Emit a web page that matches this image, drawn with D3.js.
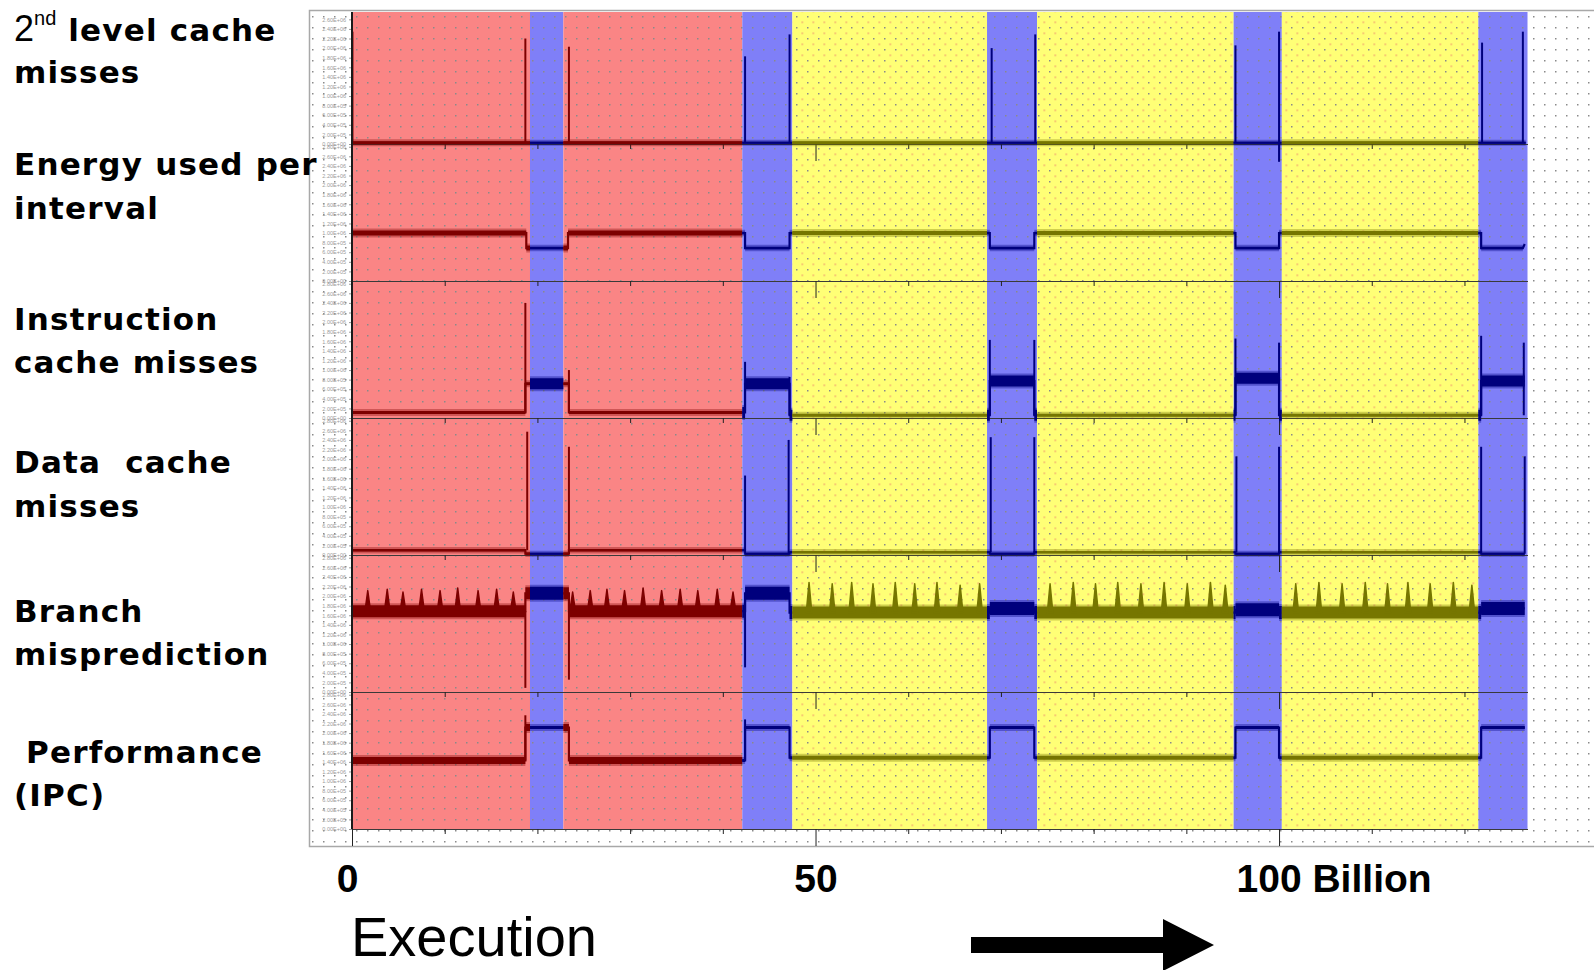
<!DOCTYPE html>
<html>
<head>
<meta charset="utf-8">
<script src="https://cdn.jsdelivr.net/npm/d3@7"></script>
<style>
    body { margin: 0; background: #fff; }
</style>
</head>
<body>
<div id="chart"></div>
<script>
// execution phases, billions of instructions
const phaseKind = ["red", "blue", "red", "blue", "yellow", "blue", "yellow", "blue", "yellow", "blue"];
const phaseStart = [0, 19.2, 22.8, 42.1, 47.5, 68.5, 73.9, 95.1, 100.3, 121.5];
const phaseEnd = [19.2, 22.8, 42.1, 47.5, 68.5, 73.9, 95.1, 100.3, 121.5, 126.8];

const xTicks = [0, 10, 20, 30, 40, 50, 60, 70, 80, 90, 100, 110, 120];
const xMajor = [0, 50, 100];
const xLabels = ["0", "50", "100 Billion"];

const yTicks = [0, 7, 14, 21, 28, 35, 42, 49, 56, 63, 70, 77, 84, 91, 98];
const yTickText = ["0.00E+00", "2.00E+05", "4.00E+05", "6.00E+05", "8.00E+05", "1.00E+06", "1.20E+06",
    "1.40E+06", "1.60E+06", "1.80E+06", "2.00E+06", "2.20E+06", "2.40E+06", "2.60E+06", "2.80E+06"];

const rowNames = [
    ["2nd level cache", "misses"],
    ["Energy used per", "interval"],
    ["Instruction", "cache misses"],
    ["Data  cache", "misses"],
    ["Branch", "misprediction"],
    [" Performance", "(IPC)"]
];

// values are % of the panel height; traces are [x, value], spikes are [x, from, to]
const l2Trace = [[0, 1], [126.6, 1]];
const l2Spikes = [[0.05, 1, 82], [18.7, 1, 77], [23.4, 1, 71], [42.4, 1, 64], [47.2, 1, 80], [69.0, 1, 70],
    [73.7, 1, 80], [95.3, 1, 72], [100.0, -13, 82], [121.9, 1, 74], [126.3, 1, 82]];

const energyTrace = [[0, 35], [18.8, 35], [18.8, 24], [23.3, 24], [23.3, 35], [42.4, 35], [42.4, 24], [47.2, 24],
    [47.2, 35], [68.8, 35], [68.8, 24], [73.6, 24], [73.6, 35], [95.3, 35], [95.3, 24], [100.0, 24], [100.0, 35],
    [121.8, 35], [121.8, 24], [126.3, 24], [126.5, 27]];
const energySpikes = [];

const icacheTrace = [[0, 4], [18.7, 4], [18.7, 25], [23.4, 25], [23.4, 4], [42.4, 4], [42.4, 25], [47.2, 25],
    [47.2, 2], [68.8, 2], [68.8, 27], [73.6, 27], [73.6, 2], [95.3, 2], [95.3, 29], [100.0, 29], [100.0, 2],
    [121.8, 2], [121.8, 27], [126.5, 27]];
const icacheSpikes = [[18.7, 4, 84], [23.4, 4, 35], [42.4, 25, 41], [47.2, 2, 30], [68.8, 2, 57], [73.6, 2, 57],
    [95.3, 2, 58], [100.0, 2, 55], [121.8, 2, 60], [126.4, 2, 55]];

const dcacheTrace = [[0, 3.5], [18.7, 3.5], [18.7, 1], [23.4, 1], [23.4, 3.5], [42.4, 3.5], [42.4, 1], [47.2, 1],
    [47.2, 2], [68.8, 2], [68.8, 1], [73.6, 1], [73.6, 2], [95.3, 2], [95.3, 1], [100.0, 1], [100.0, 2],
    [121.8, 2], [121.8, 1], [126.5, 1]];
const dcacheSpikes = [[18.9, 3.5, 90], [23.4, 3.5, 79], [42.4, 3.5, 58], [47.1, 1, 84], [68.9, 2, 86],
    [73.6, 1, 86], [95.4, 2, 72], [100.0, 1, 79], [121.8, 2, 79], [126.5, 1, 72]];

const branchTrace = [[0, 59], [18.7, 59], [18.7, 72], [23.4, 72], [23.4, 59], [42.4, 59], [42.4, 72], [47.2, 72],
    [47.2, 58], [68.8, 58], [68.8, 61], [73.6, 61], [73.6, 58], [95.3, 58], [95.3, 60], [100.0, 60], [100.0, 58],
    [121.8, 58], [121.8, 61], [126.5, 61]];
const branchSpikes = [[18.7, 59, 3], [23.4, 59, 9], [42.4, 72, 18]];
// periodic peaks on the branch trace: [x, top]
const branchPeaks = [
    [1.7, 74], [3.8, 75], [5.5, 73], [7.5, 75], [9.5, 74], [11.4, 76], [13.6, 74], [15.6, 75], [17.4, 73],
    [23.8, 73], [25.7, 74], [27.5, 75], [29.4, 74], [31.4, 76], [33.4, 74], [35.4, 75], [37.3, 74], [39.4, 75], [41.1, 73],
    [49.3, 80], [51.8, 79], [53.9, 80], [56.2, 79], [58.6, 80], [60.7, 79], [63.1, 80], [65.6, 78], [67.7, 79],
    [75.3, 79], [77.8, 80], [80.2, 79], [82.6, 80], [85.1, 79], [87.6, 80], [90.1, 79], [92.6, 80], [94.2, 78],
    [101.8, 79], [104.3, 80], [106.8, 79], [109.3, 80], [111.7, 79], [113.9, 80], [116.3, 79], [118.8, 80], [120.8, 78]
];

const ipcTrace = [[0, 50], [18.7, 50], [18.7, 74], [23.4, 74], [23.4, 50], [42.4, 50], [42.4, 74], [47.2, 74],
    [47.2, 52], [68.8, 52], [68.8, 74], [73.6, 74], [73.6, 52], [95.3, 52], [95.3, 74], [100.0, 74], [100.0, 52],
    [121.8, 52], [121.8, 74], [126.5, 74]];
const ipcSpikes = [[18.7, 50, 83], [42.4, 50, 80]];

class PhaseChart {
    constructor(config) {
        this.config = config;
        this.svg = null;
        this.defs = null;
        this.xScale = null;
        this.createSvg();
        this.createScales();
    }

    createSvg() {
        this.svg = d3.select(this.config.div)
            .append("svg")
            .attr("width", this.config.width)
            .attr("height", this.config.height);
        this.defs = this.svg.append("defs");
    }

    createScales() {
        this.xScale = d3.scaleLinear().domain([0, 126.8]).range([352, 1527.5]);
    }

    rowScale(i) {
        let bottom = this.config.firstBottom + this.config.rowHeight * i;
        return d3.scaleLinear().domain([0, 100]).range([bottom, bottom - this.config.rowHeight]);
    }

    dots(id, color, ox, oy) {
        let p = this.defs.append("pattern").attr("id", id)
            .attr("x", ox).attr("y", oy)
            .attr("width", 11).attr("height", 11).attr("patternUnits", "userSpaceOnUse");
        p.append("rect").attr("width", 1.5).attr("height", 1.5).attr("fill", color);
    }

    renderBackground() {
        let c = this.config;
        this.dots("dots", "#8a8a8a", 4, 5);
        this.dots("dots-orange", "#f0a070", 9.5, 10.5);

        this.svg.append("rect")
            .attr("x", 309.5).attr("y", 10.5)
            .attr("width", 1300).attr("height", 836)
            .attr("fill", "#fff")
            .attr("stroke", "#a8a8a8")
            .attr("stroke-width", 1.5);

        phaseKind.forEach((k, j) => {
            this.defs.append("clipPath").attr("id", "clip" + j)
                .append("rect")
                .attr("x", this.xScale(phaseStart[j]))
                .attr("y", 0)
                .attr("width", this.xScale(phaseEnd[j]) - this.xScale(phaseStart[j]))
                .attr("height", c.height);
        });

        this.svg.append("g").selectAll("rect")
            .data(phaseKind)
            .join("rect")
            .attr("x", (d, j) => this.xScale(phaseStart[j]))
            .attr("y", c.plotTop)
            .attr("width", (d, j) => this.xScale(phaseEnd[j]) - this.xScale(phaseStart[j]))
            .attr("height", c.plotBottom - c.plotTop)
            .attr("fill", d => c.bandColor[d]);

        this.svg.append("g").selectAll("rect")
            .data(phaseKind.map((k, j) => j).filter(j => phaseKind[j] === "yellow"))
            .join("rect")
            .attr("x", j => this.xScale(phaseStart[j]))
            .attr("y", c.plotTop)
            .attr("width", j => this.xScale(phaseEnd[j]) - this.xScale(phaseStart[j]))
            .attr("height", c.plotBottom - c.plotTop)
            .attr("fill", "url(#dots-orange)");

        this.svg.append("rect")
            .attr("x", 311).attr("y", 12)
            .attr("width", 1290).attr("height", 833)
            .attr("fill", "url(#dots)");
    }

    phaseAt(v) {
        let j = phaseStart.findIndex((s, k) => v >= s && v < phaseEnd[k]);
        return j < 0 ? phaseKind.length - 1 : j;
    }

    levelAt(trace, v) {
        let level = trace[0][1];
        trace.forEach(p => { if (p[0] <= v) level = p[1]; });
        return level;
    }

    renderAxes(i) {
        let c = this.config;
        let y = this.rowScale(i);
        let bottom = y(0);

        let xAxis = d3.axisBottom(this.xScale)
            .tickValues(xTicks)
            .tickSize(5)
            .tickSizeOuter(0)
            .tickFormat("");
        let gx = this.svg.append("g")
            .attr("class", "x axisLine")
            .attr("transform", `translate(0,${bottom})`)
            .call(xAxis);
        gx.select(".domain").attr("stroke", "#3a3a3a").attr("stroke-width", 1);
        gx.selectAll(".tick line")
            .attr("stroke", "#222")
            .attr("y2", d => xMajor.includes(d) ? 17 : 5);

        let ticks = yTicks.filter(t => y(t) >= c.plotTop + 2);
        let yAxis = d3.axisLeft(y)
            .tickValues(ticks)
            .tickSize(3)
            .tickSizeOuter(0)
            .tickFormat(d => yTickText[yTicks.indexOf(d)]);
        let gy = this.svg.append("g")
            .attr("class", "y axisLine")
            .attr("transform", "translate(352,0)")
            .call(yAxis);
        gy.select(".domain").remove();
        gy.selectAll(".tick line").attr("stroke", "#9a9a9a");
        gy.selectAll(".tick text")
            .attr("fill", "#9a9a9a")
            .attr("font-size", 5.5)
            .attr("font-family", "Liberation Sans, Arial, sans-serif");
    }

    renderTrace(i, trace, spikes, peaks) {
        let c = this.config;
        let y = this.rowScale(i);
        let widths = c.traceWidth[i];
        let g = this.svg.append("g");
        let line = d3.line().x(d => this.xScale(d[0])).y(d => y(d[1]));

        // flat runs carry the noise thickness, the steps between them stay thin
        let runs = [];
        for (let k = 0; k < trace.length - 1; k++) {
            if (trace[k][1] === trace[k + 1][1]) runs.push([trace[k], trace[k + 1]]);
        }

        phaseKind.forEach((k, j) => {
            let clip = `url(#clip${j})`;
            let col = c.traceColor[k];
            let w = widths[k];
            g.append("path")
                .attr("d", line(trace))
                .attr("clip-path", clip)
                .attr("fill", "none")
                .attr("stroke", col)
                .attr("stroke-width", Math.min(w, 2.2));
            runs.forEach(r => {
                g.append("path")
                    .attr("d", line(r))
                    .attr("clip-path", clip)
                    .attr("fill", "none")
                    .attr("stroke", col)
                    .attr("stroke-opacity", 0.35)
                    .attr("stroke-width", w + 4);
                g.append("path")
                    .attr("d", line(r))
                    .attr("clip-path", clip)
                    .attr("fill", "none")
                    .attr("stroke", col)
                    .attr("stroke-width", w);
            });
        });

        g.selectAll("line.spike")
            .data(spikes)
            .join("line")
            .attr("class", "spike")
            .attr("x1", d => this.xScale(d[0]))
            .attr("x2", d => this.xScale(d[0]))
            .attr("y1", d => y(d[1]))
            .attr("y2", d => y(d[2]))
            .attr("stroke", d => c.traceColor[phaseKind[this.phaseAt(d[0])]])
            .attr("stroke-width", 2);

        g.selectAll("path.peak")
            .data(peaks)
            .join("path")
            .attr("class", "peak")
            .attr("d", d => {
                let base = y(this.levelAt(trace, d[0]));
                return `M${this.xScale(d[0] - 0.3)},${base}L${this.xScale(d[0])},${y(d[1])}L${this.xScale(d[0] + 0.3)},${base}Z`;
            })
            .attr("fill", d => c.traceColor[phaseKind[this.phaseAt(d[0])]])
            .attr("stroke", d => c.traceColor[phaseKind[this.phaseAt(d[0])]])
            .attr("stroke-width", 1.5)
            .attr("stroke-linejoin", "round");
    }

    renderYLine() {
        this.svg.append("line")
            .attr("x1", 352).attr("x2", 352)
            .attr("y1", this.config.plotTop).attr("y2", this.config.plotBottom)
            .attr("stroke", "#1a1a1a")
            .attr("stroke-width", 2);
    }

    renderRowLabels() {
        let baselines = [[41, 83], [175, 219], [330, 373], [473, 517], [622, 665], [763, 806]];
        rowNames.forEach((lines, i) => {
            lines.forEach((txt, l) => {
                let t = this.svg.append("text")
                    .attr("x", 14)
                    .attr("y", baselines[i][l])
                    .attr("font-family", "DejaVu Sans, Verdana, sans-serif")
                    .attr("font-weight", "bold")
                    .attr("font-size", 31)
                    .attr("letter-spacing", 1.2)
                    .style("white-space", "pre")
                    .attr("fill", "#000");
                let m = txt.match(/^(\d)(nd)(.*)$/);
                if (m) {
                    t.append("tspan").text(m[1])
                        .attr("font-family", "Liberation Sans, Arial, sans-serif")
                        .attr("font-weight", "normal")
                        .attr("font-size", 36)
                        .attr("letter-spacing", 0);
                    t.append("tspan").text(m[2])
                        .attr("font-family", "Liberation Sans, Arial, sans-serif")
                        .attr("font-weight", "normal")
                        .attr("font-size", 20)
                        .attr("letter-spacing", 0)
                        .attr("dy", -16);
                    t.append("tspan").text(m[3]).attr("dy", 16);
                } else {
                    t.text(txt);
                }
            });
        });
    }

    renderXLabels() {
        let xAxis = d3.axisBottom(this.xScale)
            .tickValues(xMajor)
            .tickSize(0)
            .tickFormat((d, i) => xLabels[i]);
        let g = this.svg.append("g")
            .attr("transform", "translate(0,892)")
            .call(xAxis);
        g.select(".domain").remove();
        g.selectAll(".tick text")
            .attr("y", 0)
            .attr("dy", null)
            .attr("fill", "#000")
            .attr("font-family", "Liberation Sans, Arial, sans-serif")
            .attr("font-weight", "bold")
            .attr("font-size", 39)
            .attr("text-anchor", d => d === 100 ? "start" : "middle")
            .attr("x", d => d === 0 ? -5 : (d === 100 ? -43 : 0));

        this.svg.append("text")
            .attr("x", 351)
            .attr("y", 956)
            .attr("font-family", "Liberation Sans, Arial, sans-serif")
            .attr("font-size", 56)
            .attr("fill", "#000")
            .text("Execution");

        this.svg.append("path")
            .attr("d", "M971,937L1163,937L1163,919L1214,945L1163,971L1163,953L971,953Z")
            .attr("fill", "#000");
    }
}

function main() {
    let c = {
        div: "#chart", width: 1594, height: 970,
        plotTop: 12, plotBottom: 829, firstBottom: 144, rowHeight: 137,
        bandColor: { red: "#fa8585", blue: "#7f7ff8", yellow: "#ffff76" },
        traceColor: { red: "#7d0000", blue: "#00007d", yellow: "#767600" },
        traceWidth: [
            { red: 3, blue: 2, yellow: 3 },
            { red: 5, blue: 2.5, yellow: 4 },
            { red: 3, blue: 11, yellow: 3 },
            { red: 2.5, blue: 2, yellow: 2.5 },
            { red: 12, blue: 13, yellow: 12 },
            { red: 7, blue: 3, yellow: 4 }
        ]
    };
    let chart = new PhaseChart(c);
    chart.renderBackground();
    let rows = [
        [l2Trace, l2Spikes, []],
        [energyTrace, energySpikes, []],
        [icacheTrace, icacheSpikes, []],
        [dcacheTrace, dcacheSpikes, []],
        [branchTrace, branchSpikes, branchPeaks],
        [ipcTrace, ipcSpikes, []]
    ];
    rows.forEach((r, i) => chart.renderAxes(i));
    rows.forEach((r, i) => chart.renderTrace(i, r[0], r[1], r[2]));
    chart.renderYLine();
    chart.renderRowLabels();
    chart.renderXLabels();
}

main();
</script>
</body>
</html>
